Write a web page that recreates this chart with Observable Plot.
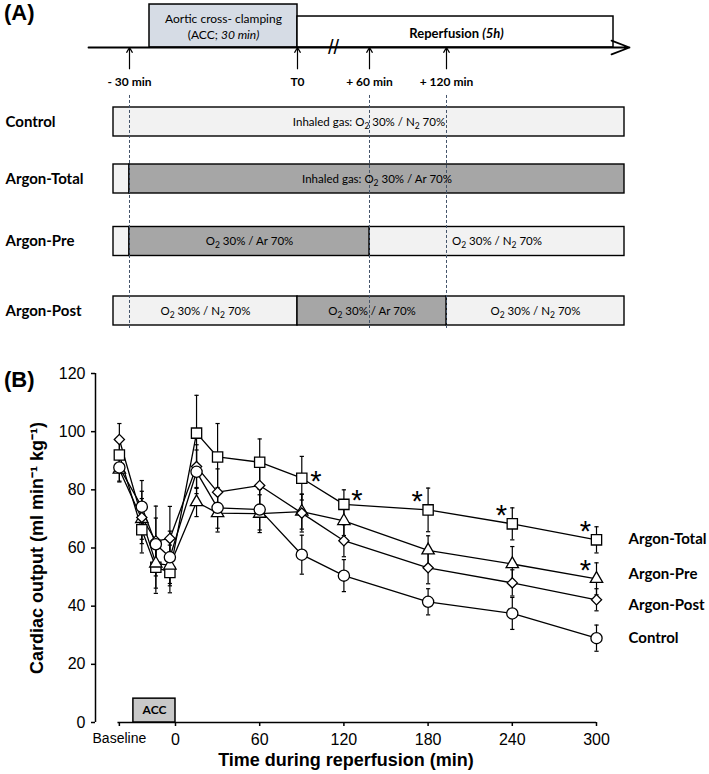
<!DOCTYPE html>
<html><head><meta charset="utf-8">
<script src="https://cdn.jsdelivr.net/npm/d3@7"></script>
<script src="https://cdn.jsdelivr.net/npm/@observablehq/plot@0.6"></script>
<style>
html,body{margin:0;padding:0;background:#fff;}
#fig{position:relative;width:709px;height:774px;overflow:hidden;background:#fff;}
#panelA{position:absolute;left:0;top:0;}
#panelB{position:absolute;left:0;top:335px;}
.tag{position:absolute;left:4px;font:bold 22px "Liberation Sans",Arial,sans-serif;line-height:1;color:#000;}
</style></head>
<body>
<div id="fig"><div id="panelA"></div><div id="panelB"></div>
<div class="tag" style="top:2px">(A)</div><div class="tag" style="top:369px">(B)</div></div>
<script>
// ================= Panel A: protocol schematic =================
const groups = ["Control", "Argon-Total", "Argon-Pre", "Argon-Post"];
const segGroup = ["Control", "Argon-Total", "Argon-Total", "Argon-Pre", "Argon-Pre", "Argon-Pre", "Argon-Post", "Argon-Post", "Argon-Post"];
const segStart = [-75, -75, -60, -75, -60, 60, -75, 0, 120];
const segEnd   = [310, -60, 310, -60, 60, 310, 0, 120, 310];
const segGas   = ["N2", "N2", "Ar", "N2", "Ar", "N2", "N2", "Ar", "N2"];
const segText  = ["Inhaled gas: O₂ 30% / N₂ 70%", "", "Inhaled gas: O₂ 30% / Ar 70%", "", "O₂ 30% / Ar 70%", "O₂ 30% / N₂ 70%", "O₂ 30% / N₂ 70%", "O₂ 30% / Ar 70%", "O₂ 30% / N₂ 70%"];
const markTimes  = [-60, 0, 60, 120];
const markLabels = ["- 30 min", "T0", "+ 60 min", "+ 120 min"];
const dashTimes  = [-60, 60, 120];
const accPhase    = [-30, 0];
const reperfPhase = [0, 300];
const timelineExtent = [-90, 322];

// ================= Panel B: cardiac output =================
const times = [-40, -24, -14, -4, 15, 30, 60, 90, 120, 180, 240, 300];
const seriesNames = ["Argon-Total", "Argon-Pre", "Argon-Post", "Control"];
const meanTotal   = [92, 66.3, 53.4, 51.6, 99.5, 91.3, 89.5, 84, 75, 73.1, 68.3, 62.8];
const errTotal    = [5, 8, 9, 7, 13, 11.5, 8, 7.5, 5, 7.5, 5.5, 4.5];
const meanPre     = [87, 70, 54.7, 54, 75.8, 72, 71.8, 72.5, 69.3, 59.2, 54.5, 49.4];
const errPre      = [4, 7, 8.5, 7, 5, 6.5, 6.5, 6, 5, 5, 6, 5.5];
const meanPost    = [97.3, 70.5, 62.4, 63.3, 88, 79.2, 81.5, 72, 62.5, 53.2, 48, 42.2];
const errPost     = [5.5, 9, 12, 11, 7.5, 8, 7, 6.5, 5.5, 5.5, 4.5, 3.8];
const meanControl = [87.7, 74.2, 61.3, 56.8, 86.2, 73.8, 73.2, 57.7, 50.5, 41.5, 37.5, 29];
const errControl  = [5, 9, 9, 9, 7.5, 7, 7, 6.7, 5.5, 4.5, 5.5, 4.5];
const xTicks = [0, 60, 120, 180, 240, 300];
const yTicks = [0, 20, 40, 60, 80, 100, 120];
const baselineTime = -40;
const baselineLabel = "Baseline";
const sigTotal = [90, 120, 180, 240, 300];
const sigPre = [300];
const accB = [-30, 0];

// ---------- helpers ----------
const cvs = document.createElement("canvas").getContext("2d");
function tw(text, font) { cvs.font = font; return cvs.measureText(text).width; }

// ---------- Panel A ----------
const xA = {type: "linear", domain: [-90, -75, -60, -30, 0, 60, 120, 300, 310, 322], range: [88, 113, 129, 149, 297, 369, 446, 613, 624, 629]};
const yA = {type: "linear", domain: [0, 1, 2, 3, 4], range: [47, 121.5, 178.5, 241, 310.5]};
const sx = Plot.scale({x: xA});
const midT = (a, b) => sx.invert((sx.apply(a) + sx.apply(b)) / 2);

const segs = segGroup.map((g, i) => ({
  g, row: groups.indexOf(g) + 1, x1: segStart[i], x2: segEnd[i], gas: segGas[i], text: segText[i],
  xm: midT(segStart[i], segEnd[i])
}));

function twoPart(p1, p2, f1, f2, tMid, y, extra) {
  const gap = tw(" ", f1);
  const w1 = tw(p1, f1), w2 = tw(p2, f2);
  const total = w1 + gap + w2;
  return [
    Plot.text([p1], {x: tMid, y, text: d => d, textAnchor: "start", dx: -total / 2, ...extra.a}),
    Plot.text([p2], {x: tMid, y, text: d => d, textAnchor: "start", dx: -total / 2 + w1 + gap, ...extra.b})
  ];
}
const accMid = midT(accPhase[0], accPhase[1]);
const repMid = sx.invert(456);

const plotA = Plot.plot({
  width: 709, height: 335, marginLeft: 5, marginRight: 0, marginTop: 0, marginBottom: 0,
  x: {...xA, axis: null}, y: {...yA, axis: null},
  style: {fontFamily: "Lato, sans-serif", background: "transparent", color: "black", overflow: "visible"},
  marks: [
    Plot.rect([accPhase], {x1: d => d[0], x2: d => d[1], y1: 0, y2: -0.577, fill: "#d6dce5", stroke: "black", strokeWidth: 1.5}),
    Plot.rect([reperfPhase], {x1: d => d[0], x2: d => d[1], y1: 0, y2: -0.416, fill: "white", stroke: "black", strokeWidth: 1.5}),
    Plot.text(["Aortic cross- clamping"], {x: accMid, y: -0.385, text: d => d, fontSize: 12}),
    ...twoPart("(ACC;", "30 min)", "12px Lato", "italic 12px Lato", accMid, -0.17,
      {a: {fontSize: 12}, b: {fontSize: 12, fontStyle: "italic"}}),
    ...twoPart("Reperfusion", "(5h)", "bold 13px Lato", "italic bold 13px Lato", repMid, -0.19,
      {a: {fontSize: 13, fontWeight: "bold"}, b: {fontSize: 13, fontWeight: "bold", fontStyle: "italic"}}),
    Plot.arrow([timelineExtent], {x1: d => d[0], x2: d => d[1], y1: 0, y2: 0, headLength: 16, headAngle: 42, strokeWidth: 1.8, stroke: "black"}),
    Plot.text(["//"], {x: midT(0, 60), y: 0, text: d => d, fontSize: 20, fontFamily: "Liberation Sans", fill: "black"}),
    Plot.arrow(markTimes, {x1: d => d, x2: d => d, y1: 0.285, y2: 0, headLength: 7, headAngle: 60, strokeWidth: 1.2, stroke: "black"}),
    Plot.text(markTimes, {x: d => d, y: 0.466, text: (d, i) => markLabels[i], fontWeight: "bold", fontSize: 12}),
    Plot.rect(segs.filter(d => d.gas === "N2"), {x1: "x1", x2: "x2", y1: "row", y2: "row", insetTop: -14.5, insetBottom: -14.5, fill: "#f2f2f2", stroke: "black", strokeWidth: 1.4}),
    Plot.rect(segs.filter(d => d.gas === "Ar"), {x1: "x1", x2: "x2", y1: "row", y2: "row", insetTop: -14.5, insetBottom: -14.5, fill: "#a6a6a6", stroke: "black", strokeWidth: 1.4}),
    Plot.ruleX(dashTimes, {x: d => d, y1: 0.644, y2: 4.28, stroke: "#44546a", strokeDasharray: "3,2", strokeWidth: 1}),
    Plot.text(segs.filter(d => d.text), {x: "xm", y: "row", text: "text", fontSize: 11.5}),
    Plot.text(groups, {y: (d, i) => i + 1, text: d => d, frameAnchor: "left", textAnchor: "start", fontWeight: "bold", fontSize: 15})
  ]
});
// render subscript "₂" as a lowered, smaller "2" (still real text)
const SVGNS = "http://www.w3.org/2000/svg";
plotA.querySelectorAll("text").forEach(t => {
  const s = t.textContent;
  if (!s.includes("₂")) return;
  while (t.firstChild) t.removeChild(t.firstChild);
  const parts = s.split("₂");
  parts.forEach((p, i) => {
    const a = document.createElementNS(SVGNS, "tspan");
    a.textContent = p;
    if (i > 0) a.setAttribute("dy", "-3");
    t.appendChild(a);
    if (i < parts.length - 1) {
      const b = document.createElementNS(SVGNS, "tspan");
      b.textContent = "2";
      b.setAttribute("dy", "3");
      b.setAttribute("font-size", "8.5");
      t.appendChild(b);
    }
  });
});
document.getElementById("panelA").appendChild(plotA);

// ---------- Panel B ----------
const means = [meanTotal, meanPre, meanPost, meanControl];
const errs = [errTotal, errPre, errPost, errControl];
const symbols = {"Argon-Total": "square", "Argon-Pre": "triangle", "Argon-Post": "diamond2", "Control": "circle"};
const sizes = {"Argon-Total": 5.8, "Argon-Pre": 4.6, "Argon-Post": 4.6, "Control": 5.6};
const rows = seriesNames.flatMap((s, k) => times.map((t, i) => ({s, t, v: means[k][i], e: errs[k][i]})));
const last = seriesNames.map((s, k) => ({s, t: times[times.length - 1], v: means[k][times.length - 1]}));
const labelNudge = {"Argon-Total": -1, "Argon-Pre": -5, "Argon-Post": 5, "Control": 0};
const sigRows = [
  ...sigTotal.map(t => ({s: "Argon-Total", t, v: meanTotal[times.indexOf(t)]})),
  ...sigPre.map(t => ({s: "Argon-Pre", t, v: meanPre[times.indexOf(t)]}))
];
const capSymbol = {draw(ctx, size) { const w = Math.sqrt(size); ctx.moveTo(-w / 2, 0); ctx.lineTo(w / 2, 0); }};
const starStyle = {x: "t", y: "v", text: () => "*", fontSize: 29};

const plotB = Plot.plot({
  width: 709, height: 439, marginTop: 38, marginBottom: 52, marginLeft: 95, marginRight: 113,
  x: {domain: [-57, 300]},
  y: {domain: [0, 120]},
  style: {fontFamily: "'Liberation Sans', Arial, sans-serif", fontSize: "16px", background: "transparent", color: "black", overflow: "visible"},
  marks: [
    Plot.ruleX([-57], {y1: 0, y2: 120, strokeWidth: 1.5}),
    Plot.ruleY([0], {x1: baselineTime - 1, x2: 300, strokeWidth: 1.5}),
    Plot.axisY({ticks: yTicks, tickSize: 4, tickPadding: 6, label: null, fontSize: 16, strokeWidth: 1.5}),
    Plot.axisX({ticks: xTicks, tickSize: 4, tickPadding: 7, label: null, fontSize: 16, strokeWidth: 1.5}),
    Plot.axisX({ticks: [baselineTime], tickFormat: () => baselineLabel, tickSize: 4, tickPadding: 7, label: null, fontSize: 14, strokeWidth: 1.5}),
    Plot.rect([accB], {x1: d => d[0], x2: d => d[1], y1: 0, y2: 8.2, fill: "#c8c8c8", stroke: "black", strokeWidth: 1.5}),
    Plot.text(["ACC"], {x: (accB[0] + accB[1]) / 2, y: 4.3, text: d => d, fontFamily: "Lato, sans-serif", fontWeight: "bold", fontSize: 12}),
    Plot.ruleX(rows, {x: "t", y1: d => d.v - d.e, y2: d => d.v + d.e, strokeWidth: 1.2}),
    Plot.dot(rows, {x: "t", y: d => d.v + d.e, symbol: capSymbol, r: 2.4, stroke: "black", fill: "none", strokeWidth: 1.2}),
    Plot.dot(rows, {x: "t", y: d => d.v - d.e, symbol: capSymbol, r: 2.4, stroke: "black", fill: "none", strokeWidth: 1.2}),
    Plot.line(rows, {x: "t", y: "v", z: "s", stroke: "black", strokeWidth: 1.3}),
    ...seriesNames.map(s => Plot.dot(rows.filter(d => d.s === s), {x: "t", y: "v", symbol: symbols[s], r: sizes[s], fill: "white", stroke: "black", strokeWidth: 1.3})),
    Plot.text(sigRows.filter(d => d.s === "Argon-Total" && d.t === 90), {...starStyle, dx: 14, dy: 4}),
    Plot.text(sigRows.filter(d => d.s === "Argon-Total" && d.t === 120), {...starStyle, dx: 13, dy: -4}),
    Plot.text(sigRows.filter(d => !(d.s === "Argon-Total" && d.t <= 120)), {...starStyle, dx: -11, dy: -8}),
    ...last.map(d => Plot.text([d], {x: "t", y: "v", text: "s", dx: 32, dy: labelNudge[d.s], textAnchor: "start", fontFamily: "Lato, sans-serif", fontWeight: "bold", fontSize: 15})),
    Plot.text(["Cardiac output (ml min⁻¹ kg⁻¹)"], {frameAnchor: "left", textAnchor: "middle", lineAnchor: "middle", text: d => d, rotate: -90, dx: -58, fontWeight: "bold", fontSize: 18}),
    Plot.text(["Time during reperfusion (min)"], {frameAnchor: "bottom", textAnchor: "middle", lineAnchor: "middle", text: d => d, dy: 38, fontWeight: "bold", fontSize: 18})
  ]
});
document.getElementById("panelB").appendChild(plotB);
</script>
</body></html>
